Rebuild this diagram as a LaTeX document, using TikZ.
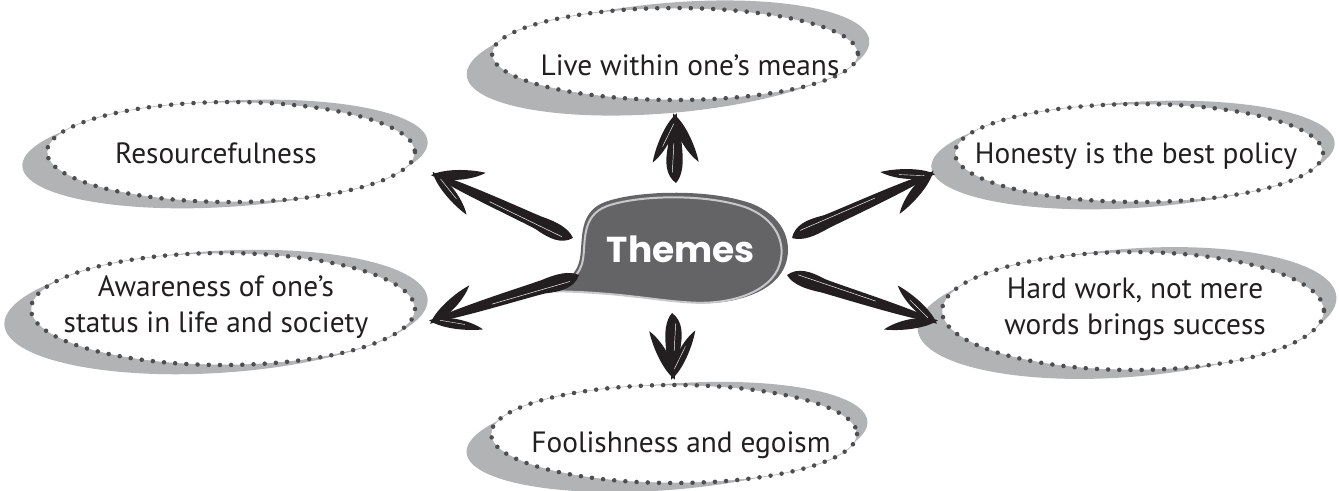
\documentclass[tikz,border=0pt]{standalone}
\usepackage{fontspec}
\setmainfont{PT Sans}
\newfontfamily\themefont{Poppins}
\usetikzlibrary{calc}
\definecolor{shade}{RGB}{178,179,181}
\definecolor{dotc}{RGB}{78,78,80}
\definecolor{linec}{RGB}{175,175,177}
\definecolor{bubble}{RGB}{100,100,102}
\definecolor{hilite}{RGB}{200,200,202}
\definecolor{ink}{RGB}{35,31,32}
\tikzset{
  shadowell/.style={fill=shade},
  whiteell/.style={fill=white},
  thinell/.style={draw=linec, line width=0.4pt},
  dotsell/.style={draw=dotc, line width=3.4pt, line cap=round, dash pattern=on 0pt off 8.4pt},
  themelabel/.style={font=\fontsize{22}{27}\selectfont, text=ink, inner sep=0pt, align=center},
  brushfill/.style={fill=ink},
  brushshine/.style={draw=white, line width=0.35pt}
}
\newcommand\ThemeEll[3]{%
  \fill[whiteell] (#1) ellipse [x radius=#2, y radius=#3];
  \draw[thinell] (#1) ellipse [x radius=#2, y radius=#3];
  \draw[dotsell] (#1) ellipse [x radius=#2, y radius=#3];}
\newcommand\brusharrow[2]{%
  \path let \p1=($(#2)-(#1)$) in
    \pgfextra{\pgfmathsetmacro\bang{atan2(\y1,\x1)}\pgfmathsetmacro\blen{veclen(\x1,\y1)}%
      \xdef\bang{\bang}\xdef\blen{\blen}};
  \begin{scope}[shift={(#1)}, rotate=\bang]
    \fill[brushfill] (0pt,0pt) .. controls (6pt,8pt) and (16pt,8pt) .. (28pt,5.6pt)
      .. controls (40pt,4.6pt) and ({\blen pt-16pt},4.2pt) .. ({\blen pt},0.8pt) -- ({\blen pt},-0.8pt)
      .. controls ({\blen pt-16pt},-4.2pt) and (40pt,-4.4pt) .. (28pt,-4.8pt)
      .. controls (16pt,-6pt) and (6pt,-5.4pt) .. (0pt,0pt) -- cycle;
    \draw[brushshine] (8pt,2.6pt) -- ({0.6*\blen pt},1.2pt);
    \begin{scope}[shift={(\blen pt,0pt)}]
      \fill[brushfill,rotate=153] (-3pt,0pt) .. controls (8pt,6.5pt) and (28pt,5pt) .. (38pt,0pt)
        .. controls (28pt,-3pt) and (8pt,-5pt) .. (-3pt,0pt) -- cycle;
      \fill[brushfill,rotate=-153] (-3pt,0pt) .. controls (8pt,5pt) and (28pt,3pt) .. (38pt,0pt)
        .. controls (28pt,-5pt) and (8pt,-6.5pt) .. (-3pt,0pt) -- cycle;
      \draw[brushshine, line width=0.3pt, rotate=153] (5pt,1.4pt) -- (24pt,1.4pt);
    \end{scope}
  \end{scope}}
\begin{document}
\begin{tikzpicture}[x=0.75pt,y=-0.75pt]
\useasboundingbox (0,0) rectangle (1339,490);

% shadows
\fill[shadowell, rotate around={5:(668,58)}] (668,58) ellipse [x radius=202, y radius=55];
\fill[shadowell, rotate around={3.5:(225,154)}] (225,154) ellipse [x radius=203, y radius=53];
\fill[shadowell, rotate around={3.5:(1133,155)}] (1133,155) ellipse [x radius=202, y radius=53];
\fill[shadowell, rotate around={3.5:(216,312)}] (216,312) ellipse [x radius=212, y radius=61];
\fill[shadowell, rotate around={4.5:(1127,313)}] (1127,313) ellipse [x radius=210, y radius=64];
\fill[shadowell, rotate around={4.5:(667,437)}] (667,437) ellipse [x radius=201, y radius=53];

% dotted ellipses
\ThemeEll{675,54}{183}{46}
\ThemeEll{231,152}{184}{50}
\ThemeEll{1139,153}{184}{49}
\ThemeEll{223,309}{192}{56}
\ThemeEll{1133,311}{191}{59}
\ThemeEll{674,434}{183}{49}

% labels
\node[themelabel, anchor=base] (live) at (690,75) {Live within one’s means};
\node[themelabel, anchor=base] (res) at (216,163) {Resourcefulness};
\node[themelabel, anchor=base] (hon) at (1136,163) {Honesty is the best policy};
\node[themelabel] (awa) at (216,307) {Awareness of one’s\\status in life and society};
\node[themelabel] (hard) at (1135,309) {Hard work, not mere\\words brings success};
\node[themelabel, anchor=base] (fool) at (681,452) {Foolishness and egoism};

% bubble
\fill[bubble] (546,291) .. controls (565,284) and (577,275) .. (580,258)
  .. controls (583,240) and (578,212) .. (605,202)
  .. controls (635,191) and (705,188) .. (750,203)
  .. controls (782,215) and (793,240) .. (786,263)
  .. controls (777,292) and (735,305) .. (695,303)
  .. controls (655,301) and (620,292) .. (546,291) -- cycle;
\draw[hilite, line width=1.5pt, shift={(-2,2)}, scale around={0.955:(690,250)}]
  (546,291) .. controls (565,284) and (577,275) .. (580,258)
  .. controls (583,240) and (578,212) .. (605,202)
  .. controls (635,191) and (705,188) .. (750,203)
  .. controls (782,215) and (793,240) .. (786,263)
  .. controls (777,292) and (735,305) .. (695,303)
  .. controls (655,301) and (620,292) .. (546,291) -- cycle;
\node[font=\themefont\bfseries\fontsize{27}{30}\selectfont, text=white, inner sep=0pt, anchor=base] (themes) at (681,262) {Themes};

% arrows
\coordinate (s1) at (676,183); \coordinate (e1) at (675,117);
\coordinate (s2) at (573,238); \coordinate (e2) at (435,175);
\coordinate (s3) at (579,275); \coordinate (e3) at (433,321);
\coordinate (s4) at (792,238); \coordinate (e4) at (931,174);
\coordinate (s5) at (787,275); \coordinate (e5) at (934,321);
\coordinate (s6) at (672,313); \coordinate (e6) at (673,376);
\brusharrow{s1}{e1}
\brusharrow{s2}{e2}
\brusharrow{s3}{e3}
\brusharrow{s4}{e4}
\brusharrow{s5}{e5}
\brusharrow{s6}{e6}
\end{tikzpicture}
\end{document}
